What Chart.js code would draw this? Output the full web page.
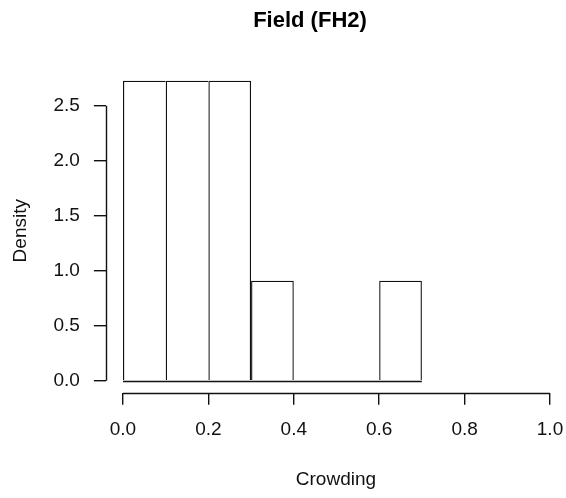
<!DOCTYPE html>
<html lang="en">
<head>
    <meta charset="UTF-8">
    <title>Field (FH2)</title>
    <style>
        html, body { margin: 0; padding: 0; background: #fff; }
        #wrap { width: 566px; height: 498px; }
    </style>
</head>
<body>
    <div id="wrap"><canvas id="myChart"></canvas></div>

    <script src="https://cdn.jsdelivr.net/npm/chart.js"></script>
    <script>
        // histogram data
        const binStarts = [0.0, 0.1, 0.2, 0.3, 0.4, 0.5, 0.6];
        const binWidth = 0.1;
        const density = [2.727, 2.727, 2.727, 0.909, 0, 0, 0.909];
        const xTicks = [0.0, 0.2, 0.4, 0.6, 0.8, 1.0];
        const yTicks = [0.0, 0.5, 1.0, 1.5, 2.0, 2.5];

        const lineColor = '#111';
        const lw = 1.4;
        const font = 'Liberation Sans, Arial, sans-serif';

        // R style axes: lines only from first to last tick, baseline under bins, title
        const rAxes = {
            id: 'rAxes',
            afterDatasetsDraw(chart) {
                const ctx = chart.ctx;
                const x = chart.scales.x, y = chart.scales.y;
                const area = chart.chartArea;
                ctx.save();
                ctx.strokeStyle = lineColor;
                ctx.lineWidth = lw;
                ctx.beginPath();
                // baseline of the histogram
                const y0 = Math.round(y.getPixelForValue(0)) + 0.5;
                ctx.moveTo(x.getPixelForValue(binStarts[0]), y0);
                ctx.lineTo(x.getPixelForValue(binStarts[binStarts.length - 1] + binWidth), y0);
                // x axis
                const xb = Math.round(area.bottom) + 0.5;
                ctx.moveTo(x.getPixelForValue(xTicks[0]), xb);
                ctx.lineTo(x.getPixelForValue(xTicks[xTicks.length - 1]), xb);
                // y axis
                const yl = Math.round(area.left) + 0.5;
                ctx.moveTo(yl, y.getPixelForValue(yTicks[0]));
                ctx.lineTo(yl, y.getPixelForValue(yTicks[yTicks.length - 1]));
                ctx.stroke();

                ctx.fillStyle = '#000';
                ctx.font = 'bold 22px ' + font;
                ctx.textAlign = 'center';
                ctx.textBaseline = 'middle';
                ctx.fillText('Field (FH2)', 310, 21);
                ctx.restore();
            }
        };

        const ctx = document.getElementById('myChart').getContext('2d');
        const myChart = new Chart(ctx, {
            type: 'bar',
            data: {
                datasets: [{
                    data: binStarts.map((s, i) => ({ x: s + binWidth / 2, y: density[i] })),
                    backgroundColor: '#fff',
                    borderColor: lineColor,
                    borderSkipped: false,
                    borderWidth: function(c) {
                        const i = c.dataIndex;
                        const next = i + 1 < density.length ? density[i + 1] : 0;
                        return { left: lw, top: lw, bottom: 0, right: next < density[i] ? lw : 0 };
                    },
                    barPercentage: 1,
                    categoryPercentage: 1,
                    inflateAmount: 0
                }]
            },
            plugins: [rAxes],
            options: {
                responsive: true,
                maintainAspectRatio: false,
                animation: false,
                layout: { padding: { top: 68.7, left: 0, right: 0, bottom: 0 } },
                plugins: {
                    legend: { display: false },
                    tooltip: { enabled: false }
                },
                scales: {
                    x: {
                        type: 'linear',
                        offset: false,
                        min: -0.04,
                        max: 1.0375,
                        afterBuildTicks: s => { s.ticks = xTicks.map(v => ({ value: v })); },
                        afterFit: s => {
                            s.height = 498 - 392.7;
                            s.paddingLeft = 0;
                            s.paddingRight = 0;
                        },
                        grid: { offset: false, drawOnChartArea: false, drawTicks: true, tickLength: 12, color: lineColor, lineWidth: lw },
                        border: { display: false },
                        ticks: {
                            color: '#111',
                            padding: 14,
                            maxRotation: 0,
                            font: { family: font, size: 19 },
                            callback: v => v.toFixed(1)
                        },
                        title: {
                            display: true,
                            text: 'Crowding',
                            color: '#111',
                            padding: { top: 0, bottom: 7 },
                            font: { family: font, size: 19 }
                        }
                    },
                    y: {
                        min: -0.109,
                        max: 2.836,
                        afterBuildTicks: s => { s.ticks = yTicks.map(v => ({ value: v })); },
                        afterFit: s => { s.width = 105.9; },
                        grid: { drawOnChartArea: false, drawTicks: true, tickLength: 12, color: lineColor, lineWidth: lw },
                        border: { display: false },
                        ticks: {
                            color: '#111',
                            padding: 14,
                            font: { family: font, size: 19 },
                            callback: v => v.toFixed(1)
                        },
                        title: {
                            display: true,
                            text: 'Density',
                            color: '#111',
                            padding: { top: 9, bottom: 0 },
                            font: { family: font, size: 19 }
                        }
                    }
                }
            }
        });
    </script>
</body>
</html>
